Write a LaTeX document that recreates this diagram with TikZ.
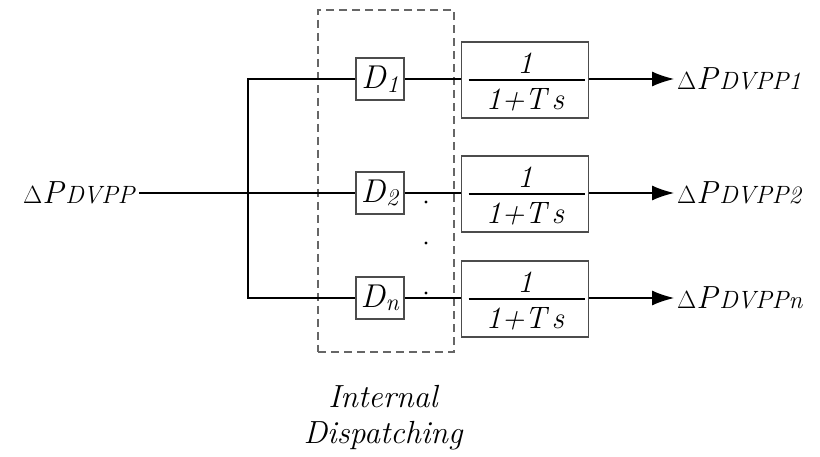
\documentclass[tikz,border=0pt]{standalone}
\usetikzlibrary{arrows.meta}
\newcommand{\DPlabel}[1]{{\fontsize{32}{38}\selectfont$\Delta$\textit{P}\fontsize{25}{30}\selectfont\textit{DVPP#1}}}
\newcommand{\Dlabel}[1]{{\fontsize{33}{38}\selectfont\textit{D}\raisebox{-0.25ex}{\fontsize{24}{28}\selectfont\textit{#1}}}}
\begin{document}
\begin{tikzpicture}[x=1pt,y=-1pt,
  blk/.style={draw=black!70, line width=1.6pt, inner sep=0pt},
  dblk/.style={blk, minimum width=48pt, minimum height=42pt},
  tfblk/.style={blk, minimum width=127pt, minimum height=76pt},
  wire/.style={line width=1.2pt},
  tftext/.style={inner sep=0pt, font=\fontsize{31}{36}\selectfont\itshape},
  lbl/.style={inner sep=3pt}]
\useasboundingbox[fill=white] (0,0) rectangle (820,457);
% dashed dispatching frame
\node[draw=black!60, dash pattern=on 8pt off 5pt, line width=1.3pt,
      minimum width=136pt, minimum height=342pt, inner sep=0pt] (disp) at (386,181) {};
\node[font=\fontsize{32}{36}\selectfont\itshape, align=center, inner sep=0pt] (txt) at (383,418)
  {Internal\\Dispatching};
% rows
\foreach \i/\y in {1/79, 2/193, n/298} {
  \node[dblk] (d\i) at (380,\y) {\Dlabel{\i}};
  \node[tfblk] (t\i) at (525,\y+1) {};
  \draw[line width=1.3pt] ([xshift=8pt]t\i.west) -- ([xshift=-4pt]t\i.east);
  \node[tftext] (num\i) at ([yshift=17pt]t\i.center) {1};
  \node[tftext] (den\i) at ([yshift=-20pt]t\i.center) {1+T\,s};
  \node[lbl, anchor=west] (o\i) at (674,\y) {\DPlabel{\i}};
  \draw[wire] (d\i.east) -- (t\i.west |- d\i.east);
  \draw[wire, -{Latex[length=22pt,width=15pt]}] (t\i.east |- d\i.east) -- (o\i.west);
}
% input
\node[lbl, anchor=east] (in) at (139,193) {\DPlabel{}};
\coordinate (bt) at (248,79);
\coordinate (bb) at (248,298);
\draw[wire] (in.east) -- (d2.west);
\draw[wire] (d1.west) -- (bt) -- (bb) -- (dn.west);
% dots
\fill (426,202) circle (1.7pt);
\fill (426,243) circle (1.7pt);
\fill (426,293) circle (1.7pt);
\end{tikzpicture}
\end{document}
